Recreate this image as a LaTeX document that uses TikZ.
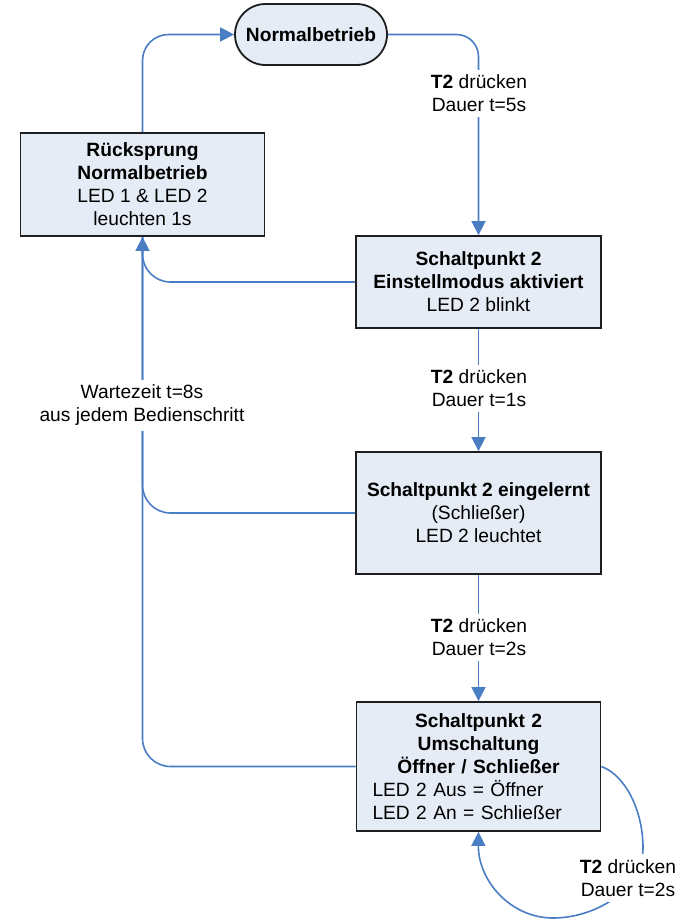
\documentclass[tikz,border=0pt]{standalone}
\usepackage{fontspec}
\setmainfont{Liberation Sans}
\usetikzlibrary{arrows.meta,shapes.misc}
\definecolor{boxfill}{RGB}{230,236,246}
\definecolor{boxline}{RGB}{30,30,30}
\definecolor{linecol}{RGB}{74,126,196}
\begin{document}
\begin{tikzpicture}[x=1pt,y=-1pt,
  font=\fontsize{19.2}{23}\selectfont,
  state/.style={draw=boxline, line width=1.8pt, fill=boxfill, rectangle, align=center, inner sep=0pt},
  term/.style={draw=boxline, line width=1.8pt, fill=boxfill, rounded rectangle, minimum width=152pt, minimum height=61pt, inner sep=0pt, font=\fontsize{19.2}{23}\selectfont\bfseries},
  conn/.style={draw=linecol, line width=1.6pt},
  arr/.style={conn, -{Triangle[length=14pt,width=14pt]}},
  lbl/.style={fill=white, align=center, inner xsep=3pt, inner ysep=5pt}
]
\useasboundingbox (0,0) rectangle (690,922);
\fill[white] (0,0) rectangle (690,922);

\node[term] (N) at (311,34.5) {Normalbetrieb};
\node[state, minimum width=244pt, minimum height=103pt] (R) at (142.5,184.5)
  {\textbf{Rücksprung}\\\textbf{Normalbetrieb}\\LED 1 \& LED 2\\leuchten 1s};
\node[state, minimum width=245pt, minimum height=92pt] (b2) at (478.5,282)
  {\textbf{Schaltpunkt 2}\\\textbf{Einstellmodus aktiviert}\\LED 2 blinkt};
\node[state, minimum width=245pt, minimum height=122pt] (b3) at (478.5,513)
  {\textbf{Schaltpunkt 2 eingelernt}\\(Schließer)\\LED 2 leuchtet};
\node[state, align=left, text width=212pt, inner xsep=16pt, minimum height=129pt] (b4) at (478.5,766.5)
  {{\centering\bfseries Schaltpunkt 2\\Umschaltung\\Öffner / Schließer\par}\raggedright\mbox{LED 2 Aus = Öffner}\\\mbox{LED 2 An = Schließer}};

\coordinate (lr) at (643,848);
\coordinate (lb) at (553,918);

\draw[arr, rounded corners=22] (N.east) -| (b2.north);
\draw[arr, rounded corners=26] (R.north) |- (N.west);
\draw[arr] (b2.south) -- (b3.north);
\draw[arr] (b3.south) -- (b4.north);
\draw[conn, rounded corners=28] (b2.west) -| (R.south);
\draw[conn, rounded corners=28] (b3.west) -| (R.south);
\draw[arr, rounded corners=28] (b4.west) -| (R.south);
\draw[arr] (b4.east) .. controls (625,775) and (643,810) .. (lr)
  .. controls (643,890) and (595,918) .. (lb)
  .. controls (510,918) and (478,880) .. (b4.south);

\node[lbl] (l1) at (479,93.5) {\textbf{T2} drücken\\Dauer t=5s};
\node[lbl] (l2) at (479,388.5) {\textbf{T2} drücken\\Dauer t=1s};
\node[lbl] (l3) at (479,637.5) {\textbf{T2} drücken\\Dauer t=2s};
\node[lbl] (l4) at (142,405.5) {Wartezeit t=8s\\aus jedem Bedienschritt};
\node[lbl] (l5) at (628,878) {\textbf{T2} drücken\\Dauer t=2s};
\end{tikzpicture}
\end{document}
